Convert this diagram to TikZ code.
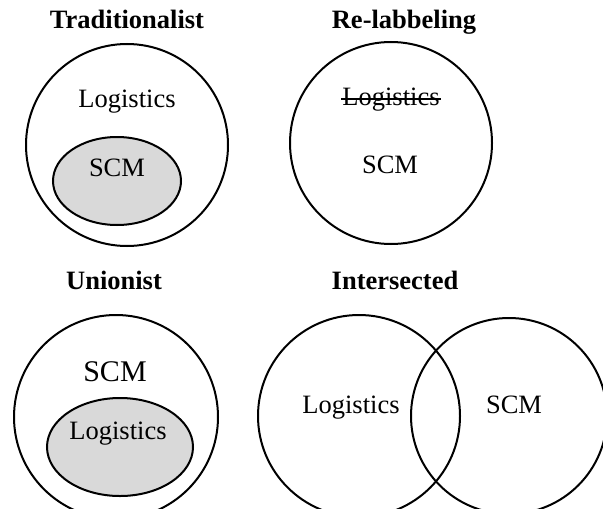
\documentclass[tikz,border=0pt]{standalone}
\usepackage{fontspec}
\setmainfont{Liberation Serif}
\definecolor{lightfill}{RGB}{217,217,217}
\tikzset{
  vtext/.style={anchor=base, inner sep=0pt, font=\fontsize{13.25}{16}\selectfont},
  vtitle/.style={vtext, font=\bfseries\fontsize{13.25}{16}\selectfont},
  vbig/.style={vtext, font=\fontsize{15}{18}\selectfont}
}

\begin{document}
\begin{tikzpicture}[x=0.5pt,y=-0.5pt,line width=1pt]
   \useasboundingbox (0,0) rectangle (603,508);
   \clip (0,0) rectangle (603,508) ;
   % traditionalist
   \node[vtitle] (tradtitle) at (127,29) {Traditionalist};
   \draw (127,145) circle (101);
   \draw[fill=lightfill] (117,181) ellipse (64 and 44);
   \node[vtext] (tradlog) at (127,107) {Logistics};
   \node[vtext] (tradscm) at (117,176) {SCM};
   % re-labbeling
   \node[vtitle] (relabtitle) at (404,29) {Re-labbeling};
   \draw (391,143) circle (101);
   \node[vtext] (relablog) at (391,105) {Logistics};
   \draw[line width=0.8pt] ([yshift=3pt]relablog.base west) -- ([yshift=3pt]relablog.base east); % strike out
   \node[vtext] (relabscm) at (390,173) {SCM};
   % unionist
   \node[vtitle] (uniontitle) at (114,289) {Unionist};
   \draw (116,417) circle (102);
   \draw[fill=lightfill] (120,447) ellipse (73 and 49);
   \node[vbig] (unionscm) at (115,381) {SCM};
   \node[vtext] (unionlog) at (118,439) {Logistics};
   % intersected
   \node[vtitle] (intertitle) at (395,289) {Intersected};
   \draw (359,416) circle (101);
   \draw (509,416) circle (98);
   \node[vtext] (interlog) at (351,413) {Logistics};
   \node[vtext] (interscm) at (514,413) {SCM};
\end{tikzpicture}
\end{document}
